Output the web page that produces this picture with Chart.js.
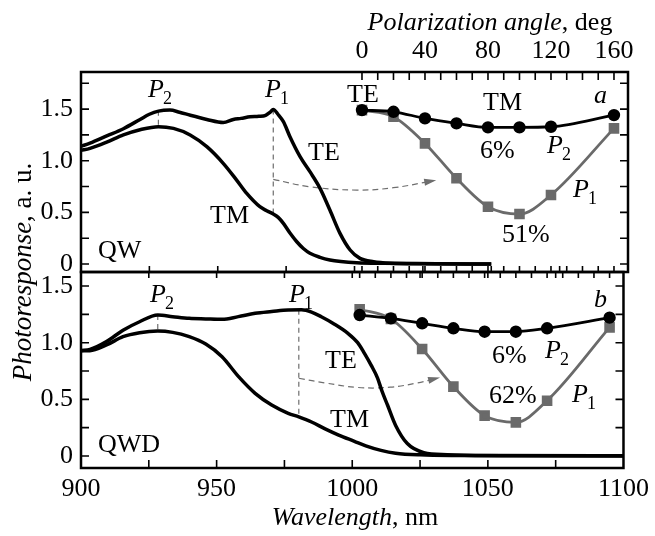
<!DOCTYPE html>
<html>
<head>
<meta charset="utf-8">
<script src="https://cdn.jsdelivr.net/npm/chart.js@4.4.0/dist/chart.umd.min.js"></script>
<style>
body { margin: 0; background: #fff; }
#wrap { position: relative; width: 655px; height: 536px; }
#wrap canvas { position: absolute; left: 0; top: 0; }
</style>
</head>
<body>
<div id="wrap">
  <canvas id="qw" width="655" height="536"></canvas>
  <canvas id="qwd" width="655" height="536"></canvas>
</div>
<script>
var FONT = "'Liberation Serif', 'Times New Roman', serif";

// spectra, panel a (QW)
var qwTeLambda = [900, 903.3, 909.4, 915.5, 921.6, 925, 928.3, 932.5, 936, 940, 946, 952, 955.7, 958.5, 961.8, 965, 967.5, 969.2, 970.3, 972, 974, 976.4, 980.1, 983.7, 987.4, 991, 994.7, 998.4, 1002, 1007, 1013, 1025, 1050];
var qwTeResp = [1.14, 1.17, 1.24, 1.31, 1.40, 1.45, 1.48, 1.49, 1.47, 1.44, 1.40, 1.37, 1.40, 1.41, 1.425, 1.43, 1.44, 1.47, 1.497, 1.45, 1.378, 1.232, 1.039, 0.894, 0.733, 0.523, 0.297, 0.136, 0.055, 0.022, 0.008, 0.003, 0.0];
var qwTmLambda = [900, 903.3, 909.4, 915.5, 921.6, 928.3, 933.8, 939.9, 946, 952, 956.9, 960.6, 965.4, 967.9, 970.3, 972.1, 974, 976.4, 978.9, 981.3, 983.7, 987.4, 991, 995, 1000.8, 1010, 1030, 1050];
var qwTmResp = [1.10, 1.12, 1.18, 1.25, 1.30, 1.33, 1.313, 1.25, 1.136, 0.975, 0.813, 0.684, 0.555, 0.516, 0.484, 0.452, 0.394, 0.30, 0.216, 0.15, 0.104, 0.065, 0.04, 0.025, 0.013, 0.007, 0.004, 0.0];

// spectra, panel b (QWD)
var qwdTeLambda = [900, 903.3, 909.4, 915.5, 921.6, 928.3, 933.8, 939.9, 946, 952, 958, 964.2, 970.3, 976.4, 981.3, 985, 988.6, 993, 998.4, 1002, 1004.5, 1007, 1009.3, 1011, 1013, 1016, 1020.3, 1026.4, 1035, 1050, 1100];
var qwdTeResp = [0.93, 0.94, 1.01, 1.11, 1.185, 1.244, 1.23, 1.215, 1.21, 1.206, 1.23, 1.259, 1.275, 1.289, 1.29, 1.27, 1.229, 1.17, 1.083, 1.0, 0.906, 0.80, 0.69, 0.57, 0.45, 0.27, 0.11, 0.03, 0.012, 0.005, 0.002];
var qwdTmLambda = [900, 903.3, 909.4, 915.5, 921.6, 928.3, 933.8, 939.9, 946, 952, 958.1, 964.2, 970.3, 976.4, 980.3, 985, 990, 995, 1000.8, 1005, 1010.6, 1016, 1025, 1040, 1060, 1100];
var qwdTmResp = [0.93, 0.93, 0.98, 1.053, 1.088, 1.103, 1.091, 1.053, 0.988, 0.876, 0.70, 0.553, 0.45, 0.377, 0.345, 0.30, 0.24, 0.185, 0.13, 0.09, 0.05, 0.025, 0.01, 0.004, 0.002, 0.001];

// polarization dependences (insets)
var angles = [0, 20, 40, 60, 80, 100, 120, 160];
var qwP2 = [1.49, 1.474, 1.41, 1.362, 1.323, 1.323, 1.329, 1.442];
var qwP1 = [1.49, 1.426, 1.168, 0.83, 0.555, 0.484, 0.668, 1.313];
var qwdP2 = [1.244, 1.215, 1.171, 1.127, 1.097, 1.097, 1.127, 1.221];
var qwdP1 = [1.295, 1.21, 0.944, 0.612, 0.356, 0.297, 0.488, 1.135];

// P2 / P1 marker lines
var qwMarkLambda = [928.3, 970.3];
var qwMarkHigh = [1.484, 1.497];
var qwMarkLow = [1.329, 0.484];
var qwdMarkLambda = [928.3, 980.3];
var qwdMarkHigh = [1.244, 1.29];
var qwdMarkLow = [1.103, 0.345];

// dashed arrows
var qwArrowLambda = [970.3, 983.7, 1000.8, 1014.2, 1028.8];
var qwArrowResp = [0.82, 0.748, 0.716, 0.739, 0.806];
var qwdArrowLambda = [980.3, 990, 1002, 1014, 1024, 1031.3];
var qwdArrowResp = [0.686, 0.645, 0.605, 0.607, 0.645, 0.686];

// ticks
var yTicks = [0, 0.5, 1.0, 1.5];
var wlTicks = [900, 950, 1000, 1050, 1100];
var angleTicks = [0, 40, 80, 120, 160];

Chart.defaults.font.family = FONT;
Chart.defaults.color = '#000';

function pts(xs, ys) {
  return xs.map(function(x, i) { return {x: x, y: ys[i]}; });
}

function spectrum(xs, ys) {
  return {data: pts(xs, ys), borderColor: '#000', borderWidth: 3.5, pointRadius: 0,
    cubicInterpolationMode: 'monotone', fill: false, xAxisID: 'x', order: 5};
}

function markers(lam, hi, lo) {
  return lam.map(function(l, i) {
    return {data: [{x: l, y: hi[i]}, {x: l, y: lo[i]}], borderColor: '#6e6e6e', borderWidth: 1.2,
      borderDash: [5, 4], pointRadius: 0, xAxisID: 'x', order: 6};
  });
}

function arrow(xs, ys) {
  return {data: pts(xs, ys), borderColor: '#6e6e6e', borderWidth: 1.2, borderDash: [6, 4],
    pointRadius: 0, tension: 0.4, xAxisID: 'x', order: 6, isArrow: true};
}

function insetP2(ys) {
  return {data: pts(angles, ys), xAxisID: 'xa', borderColor: '#000', backgroundColor: '#000',
    borderWidth: 2.8, pointRadius: 4.8, pointStyle: 'circle', cubicInterpolationMode: 'monotone', order: 0};
}

function insetP1(ys) {
  return {data: pts(angles, ys), xAxisID: 'xa', borderColor: '#6a6a6a', backgroundColor: '#6a6a6a',
    borderWidth: 2.8, pointRadius: 5.5, pointStyle: 'rect', cubicInterpolationMode: 'monotone', order: 1};
}

function drawMixed(ctx, parts, cx, y, size) {
  var total = 0;
  parts.forEach(function(p) {
    ctx.font = (p.it ? 'italic ' : '') + size + 'px ' + FONT;
    p.w = ctx.measureText(p.t).width;
    total += p.w;
  });
  var x = cx - total / 2;
  ctx.textAlign = 'left';
  ctx.textBaseline = 'alphabetic';
  parts.forEach(function(p) {
    ctx.font = (p.it ? 'italic ' : '') + size + 'px ' + FONT;
    ctx.fillText(p.t, x, y);
    x += p.w;
  });
}

// frame, inward ticks, arrow heads and labels
var decorPlugin = {
  id: 'decor',
  afterDatasetsDraw: function(chart, args, o) {
    var ctx = chart.ctx, a = chart.chartArea;
    var x = chart.scales.x, xa = chart.scales.xa, y = chart.scales.y;
    ctx.save();

    chart.data.datasets.forEach(function(ds, i) {
      if (!ds.isArrow) return;
      var pts = chart.getDatasetMeta(i).data;
      var p = pts[pts.length - 1];
      var fx = p.cp1x !== undefined ? p.cp1x : pts[pts.length - 2].x;
      var fy = p.cp1y !== undefined ? p.cp1y : pts[pts.length - 2].y;
      var ang = Math.atan2(p.y - fy, p.x - fx);
      ctx.fillStyle = '#6e6e6e';
      ctx.beginPath();
      ctx.moveTo(p.x + 3 * Math.cos(ang), p.y + 3 * Math.sin(ang));
      ctx.lineTo(p.x - 9 * Math.cos(ang) - 3.5 * Math.sin(ang), p.y - 9 * Math.sin(ang) + 3.5 * Math.cos(ang));
      ctx.lineTo(p.x - 9 * Math.cos(ang) + 3.5 * Math.sin(ang), p.y - 9 * Math.sin(ang) - 3.5 * Math.cos(ang));
      ctx.closePath();
      ctx.fill();
    });

    ctx.strokeStyle = '#000';
    ctx.lineWidth = 1.6;
    ctx.beginPath();
    for (var v = 0; v <= y.max; v += 0.25) {
      var py = y.getPixelForValue(v);
      ctx.moveTo(a.left, py); ctx.lineTo(a.left + 8, py);
      ctx.moveTo(a.right, py); ctx.lineTo(a.right - 8, py);
    }
    for (var w = 925; w < 1100; w += 25) {
      var px = x.getPixelForValue(w);
      if (o.wlBottom) { ctx.moveTo(px, a.bottom); ctx.lineTo(px, a.bottom - o.wlBottom); }
      if (o.wlTop) { ctx.moveTo(px, a.top); ctx.lineTo(px, a.top + o.wlTop); }
    }
    for (var g = 0; g <= 160; g += 10) {
      var pa = xa.getPixelForValue(g);
      if (o.angTop) { ctx.moveTo(pa, a.top); ctx.lineTo(pa, a.top + o.angTop); }
      if (o.angBottom) { ctx.moveTo(pa, a.bottom); ctx.lineTo(pa, a.bottom - o.angBottom); }
    }
    ctx.stroke();
    ctx.lineWidth = 2.5;
    ctx.strokeRect(a.left, a.top, a.right - a.left, a.bottom - a.top);

    ctx.fillStyle = '#000';
    ctx.textAlign = 'left';
    ctx.textBaseline = 'alphabetic';
    (o.texts || []).forEach(function(t) {
      ctx.font = (t.it ? 'italic ' : '') + '26px ' + FONT;
      ctx.fillText(t.t, t.x, t.y);
      if (t.sub) {
        var tw = ctx.measureText(t.t).width;
        ctx.font = '18px ' + FONT;
        ctx.fillText(t.sub, t.x + tw - 1, t.y + 7);
      }
    });
    (o.titles || []).forEach(function(fn) { fn(ctx); });
    ctx.restore();
  }
};

function tickFont() { return {family: FONT, size: 26}; }

function yScale(min, max) {
  return {type: 'linear', min: min, max: max,
    afterBuildTicks: function(s) { s.ticks = yTicks.map(function(v) { return {value: v}; }); },
    ticks: {padding: 8, color: '#000', font: tickFont(),
      callback: function(v) { return v === 0 ? '0' : v.toFixed(1); }},
    grid: {display: false, drawTicks: false}, border: {display: false},
    afterFit: function(s) { s.width = 81; }};
}

var angleMin = -178.4, angleMax = 168.9;

new Chart(document.getElementById('qw'), {
  type: 'line',
  data: {datasets: [
    spectrum(qwTeLambda, qwTeResp),
    spectrum(qwTmLambda, qwTmResp),
    insetP2(qwP2),
    insetP1(qwP1),
    arrow(qwArrowLambda, qwArrowResp)
  ].concat(markers(qwMarkLambda, qwMarkHigh, qwMarkLow))},
  options: {
    responsive: false, animation: false, events: [],
    layout: {padding: {left: 0, right: 27, top: 0, bottom: 264}},
    plugins: {
      legend: {display: false}, tooltip: {enabled: false},
      decor: {
        wlBottom: 6, angTop: 8, angBottom: 6,
        texts: [
          {t: 'P', sub: '2', it: true, x: 148, y: 97},
          {t: 'P', sub: '1', it: true, x: 265, y: 97},
          {t: 'TE', x: 347, y: 102},
          {t: 'TE', x: 308, y: 160},
          {t: 'TM', x: 210, y: 223},
          {t: 'QW', x: 98, y: 258},
          {t: 'TM', x: 483, y: 110},
          {t: 'a', it: true, x: 594, y: 103},
          {t: '6%', x: 480, y: 158},
          {t: 'P', sub: '2', it: true, x: 547, y: 153},
          {t: 'P', sub: '1', it: true, x: 573, y: 197},
          {t: '51%', x: 502, y: 242}
        ],
        titles: [function(ctx) {
          drawMixed(ctx, [{t: 'Polarization angle', it: true}, {t: ', deg'}], 490, 30, 26);
        }]
      }
    },
    scales: {
      x: {type: 'linear', display: false, min: 900, max: 1100},
      xa: {type: 'linear', axis: 'x', position: 'top', min: angleMin, max: angleMax,
        afterBuildTicks: function(s) { s.ticks = angleTicks.map(function(v) { return {value: v}; }); },
        ticks: {autoSkip: false, maxRotation: 0, padding: 5, color: '#000', font: tickFont(),
          callback: function(v) { return String(v); }},
        grid: {display: false, drawTicks: false}, border: {display: false},
        afterFit: function(s) { s.height = 72; }},
      y: yScale(-0.077, 1.859)
    }
  },
  plugins: [decorPlugin]
});

new Chart(document.getElementById('qwd'), {
  type: 'line',
  data: {datasets: [
    spectrum(qwdTeLambda, qwdTeResp),
    spectrum(qwdTmLambda, qwdTmResp),
    insetP2(qwdP2),
    insetP1(qwdP1),
    arrow(qwdArrowLambda, qwdArrowResp)
  ].concat(markers(qwdMarkLambda, qwdMarkHigh, qwdMarkLow))},
  options: {
    responsive: false, animation: false, events: [],
    layout: {padding: {left: 0, right: 27, top: 272, bottom: 0}},
    plugins: {
      legend: {display: false}, tooltip: {enabled: false},
      decor: {
        wlBottom: 8, wlTop: 6, angTop: 6,
        texts: [
          {t: 'P', sub: '2', it: true, x: 150, y: 302},
          {t: 'P', sub: '1', it: true, x: 289, y: 302},
          {t: 'TE', x: 325, y: 368},
          {t: 'TM', x: 330, y: 427},
          {t: 'QWD', x: 98, y: 452},
          {t: 'b', it: true, x: 594, y: 307},
          {t: '6%', x: 492, y: 363},
          {t: 'P', sub: '2', it: true, x: 545, y: 358},
          {t: '62%', x: 489, y: 403},
          {t: 'P', sub: '1', it: true, x: 572, y: 402}
        ],
        titles: [function(ctx) {
          drawMixed(ctx, [{t: 'Wavelength', it: true}, {t: ', nm'}], 355, 525, 26);
          ctx.save();
          ctx.translate(31, 272);
          ctx.rotate(-Math.PI / 2);
          drawMixed(ctx, [{t: 'Photoresponse', it: true}, {t: ', a. u.'}], 0, 0, 27);
          ctx.restore();
        }]
      }
    },
    scales: {
      x: {type: 'linear', position: 'bottom', min: 900, max: 1100,
        afterBuildTicks: function(s) { s.ticks = wlTicks.map(function(v) { return {value: v}; }); },
        ticks: {autoSkip: false, maxRotation: 0, padding: 6, color: '#000', font: tickFont(),
          callback: function(v) { return String(v); }},
        grid: {display: false, drawTicks: false}, border: {display: false},
        afterFit: function(s) { s.height = 68; }},
      xa: {type: 'linear', axis: 'x', display: false, min: angleMin, max: angleMax},
      y: yScale(-0.106, 1.624)
    }
  },
  plugins: [decorPlugin]
});
</script>
</body>
</html>
